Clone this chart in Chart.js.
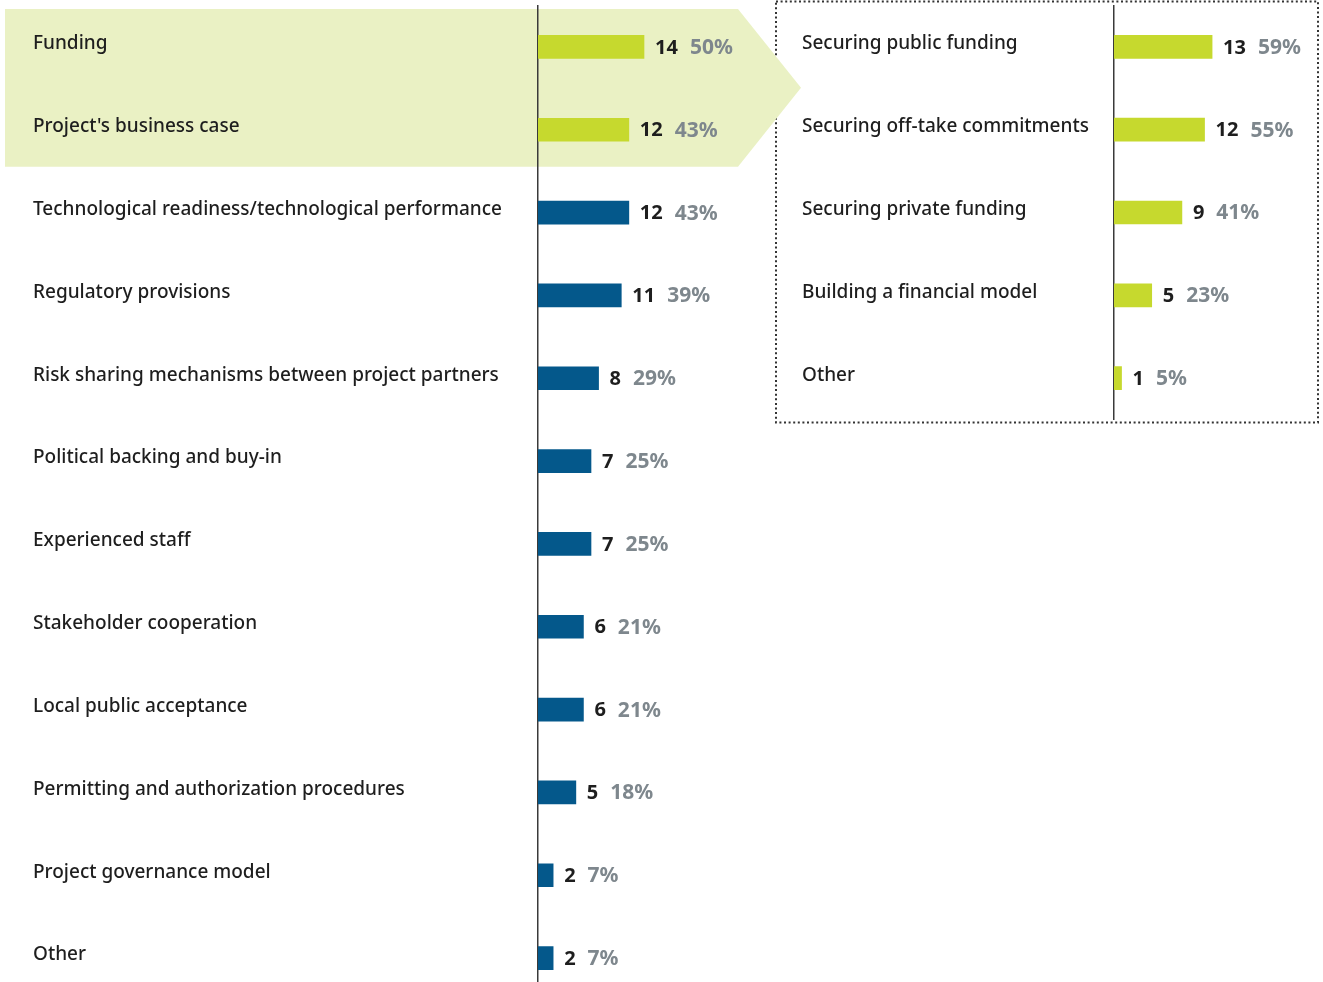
<!DOCTYPE html>
<html>
<head>
<meta charset="utf-8">
<script src="https://cdn.jsdelivr.net/npm/chart.js@4.4.0/dist/chart.umd.min.js"></script>
<style>
html, body { margin: 0; padding: 0; background: #fff; overflow: hidden; }
#wrap { position: relative; width: 1323px; height: 982px; }
#esquerda { position: absolute; left: 0; top: 0; }
#direita { position: absolute; left: 775px; top: 0; }
</style>
</head>
<body>
<div id="wrap">
  <canvas id="esquerda" width="1323" height="1010" style="width:1323px;height:1010px"></canvas>
  <canvas id="direita" width="548" height="430" style="width:548px;height:430px"></canvas>
</div>
<script>
//dados do painel esquerdo (obstáculos)
var obstacles = ['Funding', "Project's business case", 'Technological readiness/technological performance',
  'Regulatory provisions', 'Risk sharing mechanisms between project partners', 'Political backing and buy-in',
  'Experienced staff', 'Stakeholder cooperation', 'Local public acceptance',
  'Permitting and authorization procedures', 'Project governance model', 'Other'];
var obstacleCounts = [14, 12, 12, 11, 8, 7, 7, 6, 6, 5, 2, 2];
var obstaclePercents = [50, 43, 43, 39, 29, 25, 25, 21, 21, 18, 7, 7];
var highlightedRows = 2;

//dados do painel direito (detalhe do financiamento)
var fundingIssues = ['Securing public funding', 'Securing off-take commitments', 'Securing private funding',
  'Building a financial model', 'Other'];
var fundingCounts = [13, 12, 9, 5, 1];
var fundingPercents = [59, 55, 41, 23, 5];

//cores
var green = '#c6d92e';
var blue = '#04588b';
var paleGreen = '#eaf1c4';
var textDark = '#1e1e1e';
var textGray = '#7e878d';
var fontFamily = '"Noto Sans", "DejaVu Sans", sans-serif';

//rótulos de valor: número e porcentagem
function valueLabels(percents) {
  return {
    id: 'valueLabels',
    afterDatasetsDraw: function(chart) {
      var ctx = chart.ctx;
      var meta = chart.getDatasetMeta(0);
      var values = chart.data.datasets[0].data;
      ctx.save();
      ctx.textBaseline = 'middle';
      ctx.textAlign = 'left';
      meta.data.forEach(function(bar, i) {
        var x = bar.x + 11;
        var y = bar.y + 1;
        ctx.font = 'bold 20px ' + fontFamily;
        ctx.fillStyle = textDark;
        var num = String(values[i]);
        ctx.fillText(num, x, y);
        x += ctx.measureText(num).width + 12;
        ctx.font = 'bold 21px ' + fontFamily;
        ctx.fillStyle = textGray;
        ctx.fillText(percents[i] + '%', x, y);
      });
      ctx.restore();
    }
  };
}

//fundo: caixa pontilhada e seta verde
var background = {
  id: 'background',
  beforeDraw: function(chart) {
    var ctx = chart.ctx;
    var yScale = chart.scales.y;
    var top = yScale.getPixelForValue(0) - 38;
    var bottom = yScale.getPixelForValue(highlightedRows - 1) + 37;
    var right = chart.chartArea.left + 200;

    ctx.save();
    //caixa pontilhada
    ctx.strokeStyle = '#333';
    ctx.lineWidth = 2;
    ctx.setLineDash([2, 2.6]);
    ctx.strokeRect(776, 1.5, 542, 421);
    ctx.setLineDash([]);

    //seta
    ctx.fillStyle = paleGreen;
    ctx.beginPath();
    ctx.moveTo(5, top);
    ctx.lineTo(right, top);
    ctx.lineTo(right + 63, (top + bottom) / 2);
    ctx.lineTo(right, bottom);
    ctx.lineTo(5, bottom);
    ctx.closePath();
    ctx.fill();
    ctx.restore();
  }
};

function buildOptions(maxValue, padding, axisWidth) {
  return {
    indexAxis: 'y',
    responsive: false,
    animation: false,
    layout: { padding: padding },
    plugins: { legend: { display: false }, tooltip: { enabled: false } },
    scales: {
      x: { display: false, min: 0, max: maxValue },
      y: {
        afterFit: function(scale) { scale.width = axisWidth; },
        grid: { display: false },
        border: { color: '#3a3a3a', width: 1.5 },
        ticks: {
          crossAlign: 'far',
          padding: 0,
          labelOffset: -3,
          color: textDark,
          font: { family: fontFamily, size: 19, weight: '500', lineHeight: 0.5 }
        }
      }
    }
  };
}

//gráfico esquerdo
var leftColors = obstacleCounts.map(function(v, i) { return i < highlightedRows ? green : blue; });
new Chart(document.querySelector('#esquerda'), {
  type: 'bar',
  data: {
    labels: obstacles,
    datasets: [{ data: obstacleCounts, backgroundColor: leftColors, barThickness: 23, borderWidth: 0 }]
  },
  options: buildOptions(28, { left: 33, right: 573, top: 5.5, bottom: 10.5 }, 505),
  plugins: [background, valueLabels(obstaclePercents)]
});

//gráfico direito
new Chart(document.querySelector('#direita'), {
  type: 'bar',
  data: {
    labels: fundingIssues,
    datasets: [{ data: fundingCounts, backgroundColor: green, barThickness: 23, borderWidth: 0 }]
  },
  options: buildOptions(22, { left: 27, right: 43, top: 5.5, bottom: 10.5 }, 312),
  plugins: [valueLabels(fundingPercents)]
});
</script>
</body>
</html>
